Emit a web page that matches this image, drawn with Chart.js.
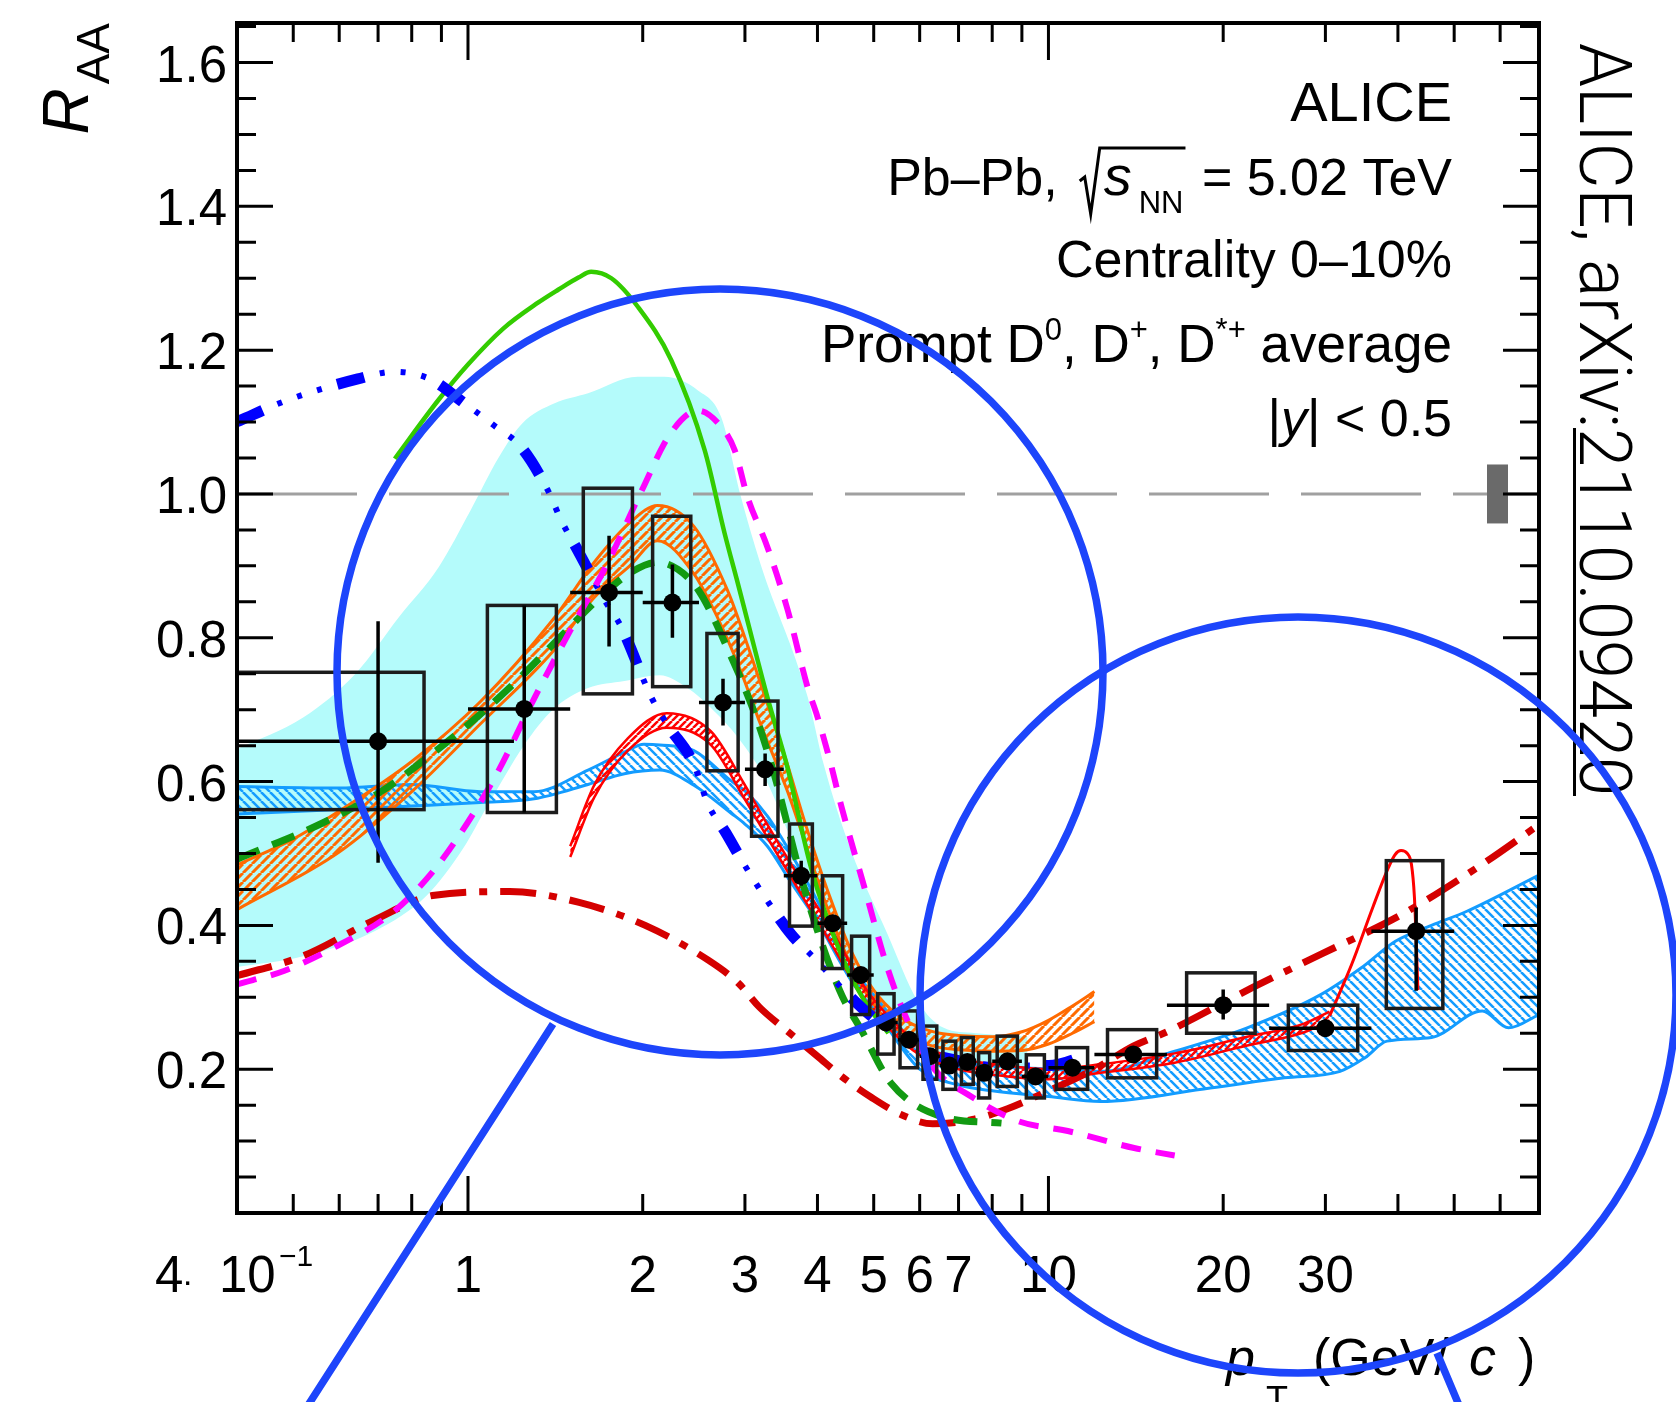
<!DOCTYPE html>
<html>
<head>
<meta charset="utf-8">
<script src="https://cdn.jsdelivr.net/npm/chart.js@4.4.1/dist/chart.umd.min.js"></script>
<style>
  html, body { margin: 0; padding: 0; background: #fff; }
  canvas { display: block; }
</style>
</head>
<body>
<canvas id="chartRaa" width="1676" height="1402"></canvas>
<script>
const X_MIN = 0.4, X_MAX = 70, Y_MIN = 0, Y_MAX = 1.655;
const TXT = '"Liberation Sans", Arial, sans-serif';

// measured prompt D-meson R_AA
const ptCenter = [0.70, 1.25, 1.75, 2.25, 2.75, 3.25, 3.75, 4.25, 4.75, 5.25, 5.75, 6.25, 6.75, 7.25, 7.75, 8.5, 9.5, 11, 14, 20, 30, 43];
const ptLow    = [0.2, 1, 1.5, 2, 2.5, 3, 3.5, 4, 4.5, 5, 5.5, 6, 6.5, 7, 7.5, 8, 9, 10, 12, 16, 24, 36];
const ptHigh   = [1.2, 1.5, 2, 2.5, 3, 3.5, 4, 4.5, 5, 5.5, 6, 6.5, 7, 7.5, 8, 9, 10, 12, 16, 24, 36, 50];
const raa      = [0.656, 0.701, 0.863, 0.849, 0.710, 0.617, 0.469, 0.403, 0.331, 0.265, 0.241, 0.218, 0.205, 0.210, 0.195, 0.211, 0.190, 0.202, 0.2205, 0.289, 0.257, 0.392];
const statLow  = [0.487, 0.557, 0.788, 0.800, 0.678, 0.594, 0.455, 0.392, 0.322, 0.258, 0.235, 0.212, 0.199, 0.204, 0.189, 0.206, 0.185, 0.197, 0.213, 0.269, 0.245, 0.309];
const statHigh = [0.823, 0.845, 0.942, 0.902, 0.743, 0.639, 0.490, 0.414, 0.340, 0.272, 0.247, 0.224, 0.211, 0.216, 0.201, 0.216, 0.195, 0.207, 0.228, 0.311, 0.269, 0.425];
const sysLow   = [0.561, 0.557, 0.722, 0.732, 0.615, 0.524, 0.399, 0.340, 0.276, 0.221, 0.202, 0.186, 0.172, 0.179, 0.160, 0.176, 0.160, 0.172, 0.188, 0.250, 0.226, 0.2845];
const sysHigh  = [0.752, 0.845, 1.008, 0.969, 0.806, 0.712, 0.541, 0.469, 0.385, 0.305, 0.281, 0.260, 0.239, 0.244, 0.223, 0.246, 0.220, 0.230, 0.255, 0.334, 0.289, 0.490];
const boxLow   = [0.3, 1.08, 1.58, 2.08, 2.58, 3.08, 3.58, 4.08, 4.58, 5.08, 5.55, 6.08, 6.58, 7.08, 7.58, 8.16, 9.16, 10.32, 12.64, 17.3, 25.9, 38.2];
const boxHigh  = [0.84, 1.42, 1.92, 2.42, 2.92, 3.42, 3.92, 4.42, 4.92, 5.42, 5.95, 6.42, 6.92, 7.42, 7.92, 8.84, 9.84, 11.68, 15.36, 22.7, 34.1, 47.8];
const normUnc  = 0.041;

// model curves
const magentaPt  = [0.4, 0.483, 0.597, 0.739, 0.864, 0.995, 1.13, 1.3, 1.5, 1.73, 1.99, 2.23, 2.49, 2.7, 2.88, 3.03, 3.28, 3.55, 3.85, 4.0, 4.2, 4.4, 4.82, 5.28, 5.72, 6.36, 7.26, 8.85, 10.8, 14.05, 16.5];
const magentaRaa = [0.318, 0.337, 0.372, 0.417, 0.472, 0.541, 0.616, 0.7155, 0.81, 0.90, 1.004, 1.0835, 1.116, 1.098, 1.061, 0.996, 0.926, 0.84, 0.73, 0.69, 0.63, 0.565, 0.4525, 0.341, 0.267, 0.20, 0.165, 0.128, 0.114, 0.0904, 0.08];

const blueDotPt  = [0.4, 0.487, 0.646, 0.745, 0.859, 0.99, 1.11, 1.235, 1.373, 1.448, 1.547, 1.72, 1.837, 2.07, 2.21, 2.45, 2.59, 2.78, 2.99, 3.28, 3.6, 4.0, 4.45, 5.0, 6.0, 7.0, 8.5, 10, 11.7];
const blueDotRaa = [1.1005, 1.13, 1.16, 1.17, 1.16, 1.125, 1.095, 1.065, 1.005, 0.963, 0.921, 0.852, 0.815, 0.717, 0.678, 0.624, 0.569, 0.529, 0.485, 0.434, 0.388, 0.35, 0.309, 0.271, 0.228, 0.212, 0.205, 0.205, 0.22];

const greenDashPt  = [0.4, 0.557, 0.708, 0.828, 1.024, 1.213, 1.438, 1.657, 1.9, 2.12, 2.3, 2.5, 2.8, 3.15, 3.37, 3.8, 4.36, 4.79, 5.35, 6.52, 8.3];
const greenDashRaa = [0.492, 0.541, 0.586, 0.626, 0.686, 0.74, 0.80, 0.85, 0.89, 0.905, 0.895, 0.865, 0.785, 0.685, 0.61, 0.45, 0.311, 0.2505, 0.181, 0.1345, 0.125];

const redDotPt  = [0.4, 0.518, 0.688, 0.876, 1.18, 1.554, 2.02, 2.59, 2.92, 3.18, 3.55, 4.0, 4.4, 4.95, 5.57, 6.32, 7.4, 8.5, 9.7, 12, 14, 16, 22.4, 29.5, 40.7, 55.9, 70];
const redDotRaa = [0.33, 0.357, 0.407, 0.442, 0.447, 0.432, 0.40, 0.352, 0.32, 0.286, 0.253, 0.218, 0.19, 0.161, 0.137, 0.124, 0.13, 0.145, 0.165, 0.2, 0.232, 0.252, 0.313, 0.36, 0.4155, 0.485, 0.54];

const greenPt  = [0.748, 0.888, 1.0, 1.15, 1.32, 1.43, 1.55, 1.63, 1.766, 1.963, 2.24, 2.557, 2.768, 2.918, 3.28, 3.55, 3.9, 4.39, 4.82, 5.3];
const greenRaa = [1.049, 1.13, 1.18, 1.23, 1.266, 1.284, 1.301, 1.309, 1.30, 1.26, 1.186, 1.061, 0.945, 0.875, 0.717, 0.62, 0.48, 0.36, 0.295, 0.25];

const redPt = [1.5, 1.65, 1.885, 2.2, 2.62, 2.99, 3.28, 3.75, 4.27, 4.75, 5.28, 6.0, 7.0, 8.5, 10.0, 12.3, 16.5, 22, 27.5, 30.5];
const redHi = [0.51, 0.595, 0.66, 0.695, 0.67, 0.597, 0.54, 0.462, 0.388, 0.322, 0.275, 0.235, 0.215, 0.205, 0.2, 0.207, 0.222, 0.245, 0.263, 0.28];
const redLo = [0.495, 0.578, 0.643, 0.675, 0.651, 0.577, 0.522, 0.443, 0.368, 0.304, 0.259, 0.22, 0.2, 0.19, 0.186, 0.195, 0.209, 0.233, 0.251, 0.268];
const spikePt  = [30.5, 33.3, 36.2, 38.5, 39.6, 40.5, 41.5, 42.2, 42.7, 43.0, 43.3];
const spikeRaa = [0.274, 0.346, 0.425, 0.48, 0.499, 0.504, 0.5, 0.485, 0.44, 0.38, 0.31];

const orangeHiPt = [0.4, 0.5, 0.6, 0.8, 1.05, 1.4, 1.65, 1.9, 2.12, 2.45, 2.8, 3.03, 3.28, 3.55, 3.8, 4.2, 4.6, 5.0, 5.5, 6.0, 6.5, 7.0, 8.0, 9.0, 10.0, 11.0, 12.0];
const orangeHi   = [0.484, 0.52, 0.559, 0.628, 0.711, 0.825, 0.905, 0.96, 0.984, 0.955, 0.866, 0.79, 0.708, 0.624, 0.545, 0.44, 0.36, 0.31, 0.275, 0.258, 0.25, 0.247, 0.245, 0.252, 0.268, 0.288, 0.308];
const orangeLoPt = [0.4, 0.6, 0.8, 1.05, 1.4, 1.65, 1.9, 2.12, 2.45, 2.69, 2.95, 3.19, 3.55, 3.8, 4.2, 4.6, 5.0, 5.5, 6.0, 6.5, 7.0, 8.0, 9.0, 10.0, 11.0, 12.0];
const orangeLo   = [0.422, 0.502, 0.586, 0.68, 0.781, 0.856, 0.90, 0.935, 0.889, 0.8285, 0.754, 0.68, 0.587, 0.5175, 0.415, 0.34, 0.29, 0.255, 0.238, 0.23, 0.227, 0.225, 0.226, 0.235, 0.25, 0.266];

const blueHiPt = [0.4, 0.6, 0.8, 1.05, 1.3, 1.61, 1.86, 2.01, 2.14, 2.45, 2.84, 3.0, 3.28, 3.6, 4.0, 4.6, 5.1, 6.0, 7.0, 8.0, 10.0, 12.3, 16.5, 22.0, 29.5, 34.6, 39.6, 45.7, 52.7, 70];
const blueHi   = [0.593, 0.591, 0.596, 0.586, 0.586, 0.616, 0.641, 0.652, 0.651, 0.643, 0.601, 0.587, 0.552, 0.5, 0.434, 0.341, 0.295, 0.23, 0.21, 0.205, 0.2, 0.197, 0.225, 0.2575, 0.304, 0.341, 0.378, 0.40, 0.42, 0.47];
const blueLoPt = [0.4, 0.6, 0.8, 1.05, 1.3, 1.61, 1.86, 2.14, 2.45, 2.84, 3.0, 3.28, 3.6, 4.0, 4.6, 5.1, 6.0, 7.0, 8.0, 10.0, 12.3, 19.0, 25.5, 31.8, 35.1, 38.3, 45.7, 55.9, 62.0, 70];
const blueLo   = [0.555, 0.561, 0.566, 0.571, 0.576, 0.596, 0.611, 0.616, 0.595, 0.556, 0.541, 0.51, 0.46, 0.405, 0.32, 0.275, 0.2, 0.178, 0.17, 0.162, 0.155, 0.174, 0.188, 0.197, 0.216, 0.239, 0.244, 0.281, 0.2575, 0.276];

const cyanHiPt = [0.4, 0.52, 0.64, 0.76, 0.89, 1.01, 1.13, 1.24, 1.41, 1.61, 1.96, 2.18, 2.49, 2.73, 2.95, 3.19, 3.85, 4.1, 4.57, 5.28, 5.95, 6.6, 7.5, 9.2];
const cyanHi   = [0.645, 0.689, 0.75, 0.8285, 0.898, 0.977, 1.051, 1.098, 1.126, 1.14, 1.163, 1.163, 1.144, 1.107, 0.997, 0.903, 0.717, 0.624, 0.504, 0.388, 0.295, 0.2575, 0.25, 0.245];
const cyanLoPt = [0.4, 0.52, 0.69, 0.85, 0.98, 1.08, 1.25, 1.4, 1.61, 1.86, 2.14, 2.39, 2.64, 2.92, 3.27, 3.6, 4.0, 4.5, 5.0, 5.5, 6.0, 7.0, 8.0, 9.2];
const cyanLo   = [0.342, 0.357, 0.392, 0.442, 0.5065, 0.566, 0.651, 0.70, 0.73, 0.74, 0.748, 0.73, 0.70, 0.661, 0.60, 0.52, 0.43, 0.345, 0.285, 0.245, 0.222, 0.205, 0.2, 0.2];

// axes
const xTickVals  = [0.5, 0.6, 0.7, 0.8, 0.9, 1, 2, 3, 4, 5, 6, 7, 8, 9, 10, 20, 30, 40, 50, 60];
const xLabelVals = [1, 2, 3, 4, 5, 6, 7, 10, 20, 30];
const yLabelVals = [0.2, 0.4, 0.6, 0.8, 1.0, 1.2, 1.4, 1.6];

const canvas = document.getElementById('chartRaa');
const mainCtx = canvas.getContext('2d');

function hatch(color, dir, step, lw) {
  const c = document.createElement('canvas');
  c.width = c.height = step;
  const g = c.getContext('2d');
  g.strokeStyle = color;
  g.lineWidth = lw;
  g.beginPath();
  for (let k = -1; k <= 1; k++) {
    if (dir === '/') { g.moveTo(k * step, step); g.lineTo(k * step + step, 0); }
    else { g.moveTo(k * step, 0); g.lineTo(k * step + step, step); }
  }
  g.stroke();
  return mainCtx.createPattern(c, 'repeat');
}

function curve(xs, ys, style) {
  return Object.assign({
    data: xs.map((x, i) => ({ x, y: ys[i] })),
    borderWidth: 3,
    pointRadius: 0,
    fill: false,
    cubicInterpolationMode: 'monotone',
  }, style);
}

const ORANGE = '#ff6a00';
const AZURE  = '#139cff';

const datasets = [
  curve(magentaPt, magentaRaa, { borderColor: '#ff00ff', borderWidth: 6, borderDash: [20, 15] }),
  // dash-dot-dot-dot: thick long dashes plus thinner dots, same period
  curve(blueDotPt, blueDotRaa, { borderColor: '#0000ff', borderWidth: 11, borderDash: [28, 79] }),
  curve(blueDotPt, blueDotRaa, { borderColor: '#0000ff', borderWidth: 6, borderDash: [0, 44, 5, 16, 5, 16, 5, 16] }),
  curve(greenDashPt, greenDashRaa, { borderColor: '#129a12', borderWidth: 7, borderDash: [24, 14] }),
  curve(redDotPt, redDotRaa, { borderColor: '#d40000', borderWidth: 7, borderDash: [36, 13, 8, 13] }),
  curve(greenPt, greenRaa, { borderColor: '#33cc00', borderWidth: 4.5 }),
  curve(spikePt, spikeRaa, { borderColor: '#ff0000', borderWidth: 3 }),
  curve(redPt, redHi, { borderColor: '#ff0000', borderWidth: 2.5, fill: '+1', backgroundColor: hatch('#ff0000', '/', 7, 2.5) }),
  curve(redPt, redLo, { borderColor: '#ff0000', borderWidth: 2.5 }),
  curve(orangeHiPt, orangeHi, { borderColor: ORANGE, borderWidth: 3, fill: '+1', backgroundColor: hatch(ORANGE, '/', 9, 3) }),
  curve(orangeLoPt, orangeLo, { borderColor: ORANGE, borderWidth: 3 }),
  curve(blueHiPt, blueHi, { borderColor: AZURE, borderWidth: 3, fill: '+1', backgroundColor: hatch(AZURE, '\\', 9, 2.5) }),
  curve(blueLoPt, blueLo, { borderColor: AZURE, borderWidth: 3 }),
  curve([X_MIN, X_MAX], [1, 1], { borderColor: '#a0a0a0', borderWidth: 3, borderDash: [120, 32], cubicInterpolationMode: 'default' }),
  curve(cyanHiPt, cyanHi, { borderWidth: 0, borderColor: 'rgba(0,0,0,0)', fill: '+1', backgroundColor: '#b4fbfb' }),
  curve(cyanLoPt, cyanLo, { borderWidth: 0, borderColor: 'rgba(0,0,0,0)' }),
];

function drawMeasured(chart) {
  const { ctx, chartArea: a, scales: { x, y } } = chart;
  ctx.save();
  ctx.beginPath();
  ctx.rect(a.left, a.top, a.right - a.left, a.bottom - a.top);
  ctx.clip();

  // normalisation uncertainty at R_AA = 1
  const nTop = y.getPixelForValue(1 + normUnc);
  ctx.fillStyle = '#6a6a6a';
  ctx.fillRect(a.right - 52, nTop, 21, y.getPixelForValue(1 - normUnc) - nTop);

  ctx.strokeStyle = '#1c1c1c';
  ctx.lineWidth = 3.5;
  ptCenter.forEach((pt, i) => {
    const x0 = x.getPixelForValue(boxLow[i]);
    const x1 = x.getPixelForValue(boxHigh[i]);
    const y0 = y.getPixelForValue(sysHigh[i]);
    const y1 = y.getPixelForValue(sysLow[i]);
    ctx.strokeRect(x0, y0, x1 - x0, y1 - y0);
  });

  ctx.strokeStyle = '#000';
  ctx.beginPath();
  ptCenter.forEach((pt, i) => {
    const px = x.getPixelForValue(pt);
    const py = y.getPixelForValue(raa[i]);
    ctx.moveTo(x.getPixelForValue(ptLow[i]), py);
    ctx.lineTo(x.getPixelForValue(ptHigh[i]), py);
    ctx.moveTo(px, y.getPixelForValue(statHigh[i]));
    ctx.lineTo(px, y.getPixelForValue(statLow[i]));
  });
  ctx.stroke();

  ctx.fillStyle = '#000';
  ptCenter.forEach((pt, i) => {
    ctx.beginPath();
    ctx.arc(x.getPixelForValue(pt), y.getPixelForValue(raa[i]), 9, 0, Math.PI * 2);
    ctx.fill();
  });
  ctx.restore();
}

function drawFrame(chart) {
  const { ctx, chartArea: a, scales: { x, y } } = chart;
  ctx.save();
  ctx.strokeStyle = '#000';
  ctx.lineWidth = 3;
  ctx.beginPath();
  xTickVals.forEach(v => {
    const px = x.getPixelForValue(v);
    const len = (v === 1 || v === 10) ? 37 : 19;
    ctx.moveTo(px, a.bottom); ctx.lineTo(px, a.bottom - len);
    ctx.moveTo(px, a.top);    ctx.lineTo(px, a.top + len);
  });
  for (let k = 1; k * 0.05 < Y_MAX; k++) {
    const py = y.getPixelForValue(k * 0.05);
    const len = k % 4 === 0 ? 36 : 19;
    ctx.moveTo(a.left, py);  ctx.lineTo(a.left + len, py);
    ctx.moveTo(a.right, py); ctx.lineTo(a.right - len, py);
  }
  ctx.stroke();
  ctx.lineWidth = 4;
  ctx.strokeRect(a.left, a.top, a.right - a.left, a.bottom - a.top);
  ctx.restore();
}

// draws text pieces left to right so that the run ends at xRight
function drawRun(ctx, parts, xRight, base) {
  const widths = parts.map(p => { ctx.font = p.font; return ctx.measureText(p.t).width + (p.gap || 0); });
  let cx = xRight - widths.reduce((s, w) => s + w, 0);
  parts.forEach((p, i) => {
    ctx.font = p.font;
    ctx.fillText(p.t, cx, base + (p.dy || 0));
    cx += widths[i];
  });
}

function drawLabels(chart) {
  const { ctx, chartArea: a, scales: { x, y } } = chart;
  const F = s => `${s}px ${TXT}`;
  const FI = s => `italic ${s}px ${TXT}`;
  ctx.save();
  ctx.fillStyle = '#000';

  ctx.font = F(51);
  ctx.textAlign = 'right';
  yLabelVals.forEach(v => ctx.fillText(v.toFixed(1), a.left - 10, y.getPixelForValue(v) + 19));
  ctx.textAlign = 'center';
  xLabelVals.forEach(v => ctx.fillText(String(v), x.getPixelForValue(v), a.bottom + 79));

  ctx.textAlign = 'left';
  const x0 = x.getPixelForValue(X_MIN);
  ctx.fillText('4', x0 - 82, a.bottom + 79);
  ctx.font = F(34);
  ctx.fillText('·', x0 - 55, a.bottom + 79);
  ctx.font = F(51);
  ctx.fillText('10', x0 - 18, a.bottom + 79);
  ctx.font = F(30);
  ctx.fillText('−1', x0 + 42, a.bottom + 53);

  // y title
  ctx.save();
  ctx.translate(88, a.top);
  ctx.rotate(-Math.PI / 2);
  ctx.textAlign = 'right';
  ctx.font = F(46);
  ctx.fillText('AA', 0, 21);
  const wAA = ctx.measureText('AA').width;
  ctx.font = FI(64);
  ctx.fillText('R', -wAA - 4, 0);
  ctx.restore();

  // x title
  ctx.textAlign = 'left';
  ctx.font = FI(52);
  ctx.fillText('p', a.right - 313, 1375);
  ctx.font = F(36);
  ctx.fillText('T', a.right - 273, 1412);
  ctx.font = F(52);
  ctx.fillText('(GeV/', a.right - 226, 1375);
  ctx.font = FI(54);
  ctx.fillText('c', a.right - 70, 1375);
  ctx.font = F(52);
  ctx.fillText(')', a.right - 21, 1375);

  // info block
  const R = a.right - 87;
  drawRun(ctx, [{ t: 'ALICE', font: F(56) }], R, 121);

  ctx.font = F(52);
  const tail = ' = 5.02 TeV';
  const wTail = ctx.measureText(tail).width;
  ctx.fillText(tail, R - wTail, 195);
  ctx.font = F(31);
  const wNN = ctx.measureText('NN').width;
  const xNN = R - wTail - wNN - 4;
  ctx.fillText('NN', xNN, 213);
  ctx.font = FI(56);
  const xS = xNN - 35;
  ctx.fillText('s', xS, 195);
  const rx = xS - 24;
  ctx.strokeStyle = '#000';
  ctx.lineWidth = 3;
  ctx.beginPath();
  ctx.moveTo(rx, 181);
  ctx.lineTo(rx + 5, 177);
  ctx.lineTo(rx + 11, 214);
  ctx.lineTo(rx + 20, 148);
  ctx.lineTo(xNN + wNN + 2, 148);
  ctx.stroke();
  ctx.font = F(52);
  ctx.fillText('Pb–Pb,', rx - 22 - ctx.measureText('Pb–Pb,').width, 195);

  drawRun(ctx, [{ t: 'Centrality 0–10%', font: F(52) }], R, 277);
  drawRun(ctx, [
    { t: 'Prompt D', font: F(53) },
    { t: '0', font: F(31), dy: -22 },
    { t: ', D', font: F(53) },
    { t: '+', font: F(31), dy: -22 },
    { t: ', D', font: F(53) },
    { t: '*+', font: F(31), dy: -22 },
    { t: ' average', font: F(53) },
  ], R, 362);
  drawRun(ctx, [
    { t: '|', font: F(52) },
    { t: 'y', font: FI(52) },
    { t: '| < 0.5', font: F(52) },
  ], R, 436);

  // citation along right edge
  ctx.save();
  ctx.translate(a.right + 41, 43);
  ctx.rotate(Math.PI / 2);
  ctx.font = `300 72px Roboto, ${TXT}`;
  const cite = 'ALICE, arXiv:2110.09420';
  ctx.scale(753 / ctx.measureText(cite).width, 1);
  ctx.fillText(cite, 0, 0);
  const w0 = ctx.measureText('ALICE, arXiv:').width;
  ctx.fillRect(w0, 4, ctx.measureText('2110.09420').width, 3);
  ctx.restore();

  ctx.restore();
}

function drawMarks(chart) {
  const { ctx } = chart;
  ctx.save();
  ctx.strokeStyle = '#1d45fb';
  ctx.lineWidth = 7.5;
  ctx.beginPath(); ctx.arc(720, 672, 383, 0, Math.PI * 2); ctx.stroke();
  ctx.beginPath(); ctx.arc(1298, 995, 378, 0, Math.PI * 2); ctx.stroke();
  ctx.beginPath();
  ctx.moveTo(553, 1024);  ctx.lineTo(305, 1410);
  ctx.moveTo(1437, 1353); ctx.lineTo(1461, 1410);
  ctx.stroke();
  ctx.restore();
}

const overlay = {
  id: 'overlay',
  afterDatasetsDraw(chart) { drawMeasured(chart); drawFrame(chart); },
  afterDraw(chart) { drawLabels(chart); drawMarks(chart); },
};

new Chart(canvas, {
  type: 'line',
  data: { datasets },
  options: {
    responsive: false,
    animation: false,
    layout: { padding: { left: 237, right: 137, top: 23, bottom: 189 } },
    plugins: {
      legend: { display: false },
      tooltip: { enabled: false },
      filler: { drawTime: 'beforeDatasetDraw' },
    },
    scales: {
      x: { type: 'logarithmic', min: X_MIN, max: X_MAX, display: false },
      y: { type: 'linear', min: Y_MIN, max: Y_MAX, display: false },
    },
    elements: { point: { radius: 0 } },
  },
  plugins: [overlay],
});
</script>
</body>
</html>
